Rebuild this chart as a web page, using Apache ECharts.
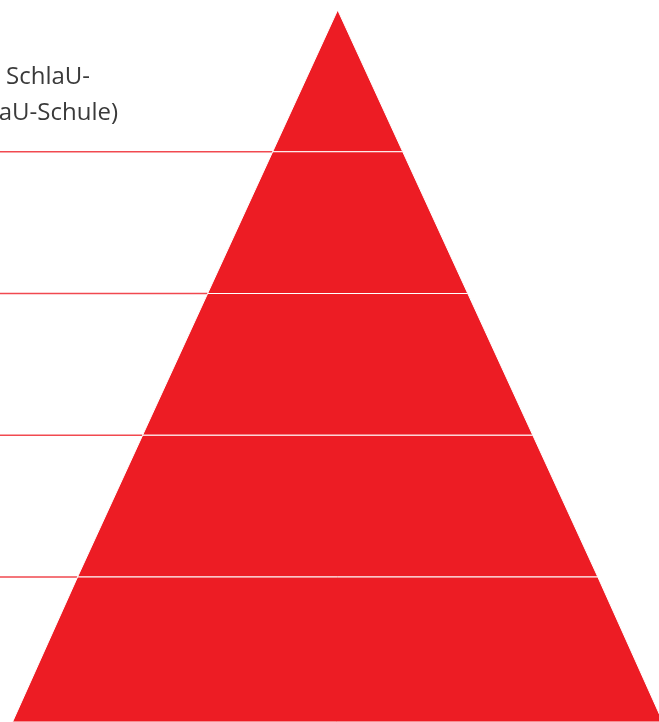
<!DOCTYPE html>
<html>
<head>
<meta charset="utf-8">
<script src="https://cdn.jsdelivr.net/npm/echarts@6/dist/echarts.min.js"></script>
<style>
  html, body { margin: 0; padding: 0; background: #fff; }
  #main { width: 659px; height: 722px; }
</style>
</head>
<body>
<div id="main"></div>
<script>
// Stufen der Pyramide, von oben nach unten (Breite je Stufe)
var levels = ['Stufe 1', 'Stufe 2', 'Stufe 3', 'Stufe 4', 'Stufe 5'];
var levelValues = [1, 2, 3, 4, 5];
// Stufengrenzen, an denen die roten Linien links enden
var boundaries = [1, 2, 3, 4];
// sichtbarer (abgeschnittener) Text oben links
var textLines = [' SchlaU-', 'aU-Schule)'];

var RED = '#ED1C24';
var myChart = echarts.init(document.getElementById('main'));

// Geometrie der Pyramide
var top0 = 10, bandH = 141.75, h = 712, apexX = 337.7;
var unitPx = 130.07;                   // volle Breite je Wert-Einheit
var baseW = unitPx * 5;
var xMin = -apexX / unitPx;
var xMax = (659 - apexX) / unitPx;
var lastH = h - bandH * 4;             // unterste Stufe läuft bis zum Bildrand

var leaderSeries = boundaries.map(function (b) {
    return {
        type: 'line',
        symbol: 'none',
        silent: true,
        lineStyle: { color: RED, width: 1.5, opacity: 0.8 },
        data: [[xMin, b], [-b / 2, b]],
        z: 1
    };
});

var option = {
    backgroundColor: '#ffffff',
    animation: false,
    grid: { left: 0, right: 0, top: top0, height: bandH * 5 },
    xAxis: { type: 'value', min: xMin, max: xMax, show: false },
    yAxis: { type: 'value', min: 0, max: 5, inverse: true, show: false },
    graphic: textLines.map(function (t, i) {
        return {
            type: 'text',
            x: [90, 118][i],
            y: [77, 113][i],
            style: {
                text: t,
                fill: '#3a3a3a',
                font: '24px "Open Sans"',
                textAlign: 'right',
                textVerticalAlign: 'middle'
            }
        };
    }),
    series: [{
        type: 'funnel',
        sort: 'ascending',
        left: apexX - baseW / 2,
        top: top0,
        width: baseW,
        height: h,
        min: 0,
        max: 5,
        minSize: '0%',
        maxSize: '100%',
        gap: 0,
        label: { show: false },
        labelLine: { show: false },
        itemStyle: { color: RED, borderColor: '#ffffff', borderWidth: 1 },
        emphasis: { disabled: true },
        data: levels.map(function (n, i) {
            return {
                name: n,
                value: levelValues[i],
                itemStyle: { height: i === levels.length - 1 ? lastH : bandH }
            };
        }),
        z: 2
    }].concat(leaderSeries)
};

myChart.setOption(option);
</script>
</body>
</html>
